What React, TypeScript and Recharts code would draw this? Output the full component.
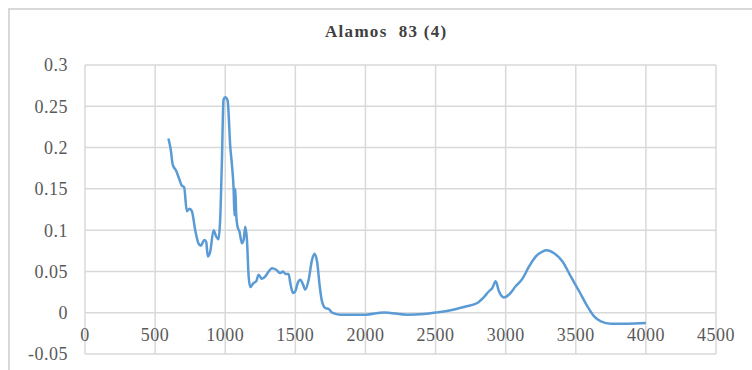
import React from "react";
import { LineChart, Line, XAxis, YAxis, CartesianGrid } from "recharts";

const TITLE = "Alamos  83 (4)";

const wavenumbers = [
  595, 612, 626, 650, 674, 690, 707, 726, 745, 762, 786, 809, 826, 850, 864, 876, 893, 917, 936, 952,
  964, 976, 988, 1000, 1017, 1036, 1048, 1060, 1066, 1072, 1078, 1088, 1102, 1119, 1131, 1143, 1155,
  1167, 1179, 1202, 1221, 1238, 1262, 1286, 1310, 1333, 1364, 1393, 1412, 1429, 1452, 1464, 1483,
  1500, 1517, 1536, 1555, 1571, 1595, 1619, 1636, 1655, 1674, 1690, 1714, 1738, 1762, 1821, 1893,
  2000, 2131, 2298, 2417, 2512, 2607, 2702, 2798, 2845, 2881, 2905, 2929, 2952, 2988, 3024, 3071,
  3119, 3167, 3214, 3262, 3293, 3345, 3405, 3464, 3524, 3583, 3631, 3679, 3750, 3869, 4000,
];

const absorbance = [
  0.211, 0.197, 0.179, 0.172, 0.161, 0.154, 0.152, 0.123, 0.126, 0.123, 0.1, 0.084, 0.081, 0.088,
  0.086, 0.068, 0.074, 0.1, 0.092, 0.089, 0.113, 0.181, 0.258, 0.261, 0.257, 0.201, 0.179, 0.149,
  0.118, 0.15, 0.12, 0.104, 0.098, 0.084, 0.088, 0.104, 0.088, 0.044, 0.031, 0.036, 0.038, 0.046,
  0.041, 0.044, 0.05, 0.054, 0.052, 0.048, 0.05, 0.047, 0.047, 0.036, 0.024, 0.026, 0.036, 0.04,
  0.034, 0.028, 0.04, 0.064, 0.0715, 0.062, 0.032, 0.0137, 0.0057, 0.0045, 0, -0.0024, -0.0024,
  -0.0024, 0.0004, -0.0024, -0.0016, 0.0004, 0.003, 0.007, 0.0118, 0.019, 0.026, 0.03, 0.038, 0.026,
  0.0185, 0.022, 0.032, 0.041, 0.056, 0.068, 0.074, 0.0755, 0.072, 0.062, 0.044, 0.026, 0.0076,
  -0.0045, -0.0105, -0.0133, -0.0133, -0.0125,
];

const xTicks = [0, 500, 1000, 1500, 2000, 2500, 3000, 3500, 4000, 4500];
const yTicks = [-0.05, 0, 0.05, 0.1, 0.15, 0.2, 0.25, 0.3];

const data = wavenumbers.map((x, i) => ({ x, y: absorbance[i] }));

const tickStyle = { fontSize: 18, fill: "#595959", fontFamily: "Liberation Serif", letterSpacing: 0.5 };

export default function App() {
  return (
    <div style={{ position: "absolute", left: 0, top: 0, width: 752, height: 370, overflow: "hidden", background: "#fff" }}>
      <div
        style={{
          position: "absolute",
          left: 8,
          top: 8,
          width: 800,
          height: 400,
          borderLeft: "2px solid #d9d9d9",
          borderTop: "2px solid #d9d9d9",
        }}
      />
      <div
        style={{
          position: "absolute",
          left: 325,
          top: 22,
          fontFamily: "Liberation Serif",
          fontWeight: "bold",
          fontSize: 17,
          letterSpacing: 1.3,
          color: "#404040",
          whiteSpace: "pre",
          lineHeight: "20px",
        }}
      >
        {TITLE}
      </div>
      <div style={{ position: "absolute", left: 0, top: 0 }}>
        <LineChart width={752} height={370} data={data} margin={{ top: 65, right: 36, bottom: 0, left: 0 }}>
          <CartesianGrid stroke="#d9d9d9" strokeWidth={1.5} />
          <XAxis
            dataKey="x"
            type="number"
            domain={[0, 4500]}
            ticks={xTicks}
            height={16}
            axisLine={false}
            tickLine={false}
            tickSize={0}
            tickMargin={-26}
            tick={tickStyle}
            interval={0}
          />
          <YAxis
            type="number"
            domain={[-0.05, 0.3]}
            ticks={yTicks}
            width={85}
            axisLine={false}
            tickLine={false}
            tickSize={0}
            tickMargin={17}
            tick={tickStyle}
            interval={0}
          />
          <Line
            type="monotone"
            dataKey="y"
            stroke="#5b9bd5"
            strokeWidth={2.5}
            dot={false}
            isAnimationActive={false}
          />
        </LineChart>
      </div>
    </div>
  );
}
